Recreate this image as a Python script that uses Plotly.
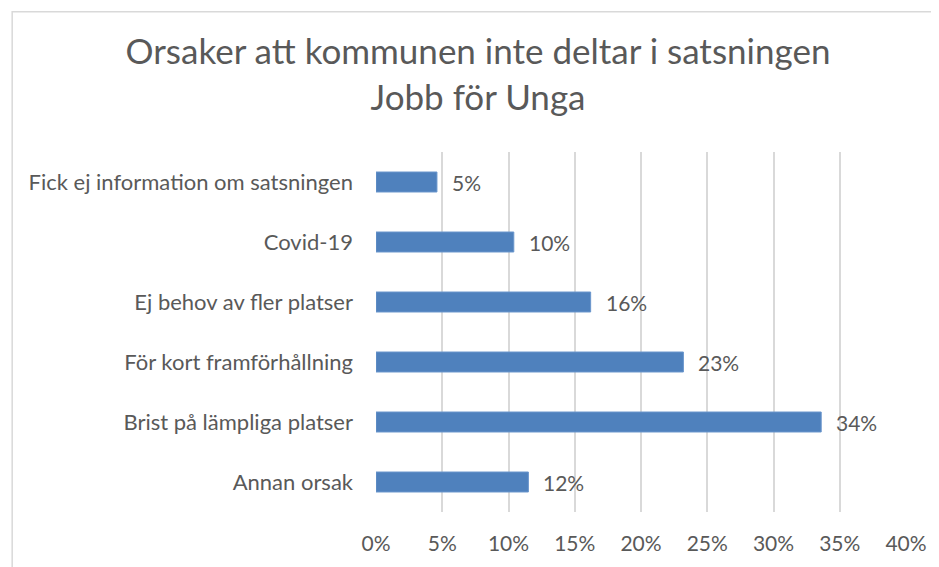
import plotly.graph_objects as go

categories = ["Fick ej information om satsningen", "Covid-19", "Ej behov av fler platser",
              "För kort framförhållning", "Brist på lämpliga platser", "Annan orsak"]
values = [0.046, 0.104, 0.162, 0.232, 0.336, 0.115]
tick_vals = [0, 0.05, 0.10, 0.15, 0.20, 0.25, 0.30, 0.35, 0.40]

# page body has an 8px margin, so the figure is sized to fill the rest of the window
W, H = 931, 559
L, R, T, B = 368, 28, 144, 47
FONT = "Lato"
GREY = "#595959"

fig = go.Figure()
fig.add_trace(go.Bar(
    y=categories, x=values, orientation="h",
    marker=dict(color="#4f81bd", line=dict(color="#6a96cc", width=1)),
    hoverinfo="skip",
))
for c, v in zip(categories, values):
    fig.add_annotation(x=v, y=c, text=f"{v:.0%}", showarrow=False, xanchor="left",
                       xshift=13, yshift=0, font=dict(family=FONT, size=21, color=GREY))

pw = W - L - R
ph = H - T - B
fig.add_shape(type="rect", xref="paper", yref="paper",
              x0=(0.75 - L) / pw, x1=(W + 10 - L) / pw,
              y0=-(B + 10) / ph, y1=(H - B - 0.75) / ph,
              line=dict(color="#d9d9d9", width=1.5), fillcolor="rgba(0,0,0,0)", layer="below")

fig.update_layout(
    width=W, height=H,
    margin=dict(l=L, r=R, t=T, b=B),
    paper_bgcolor="white", plot_bgcolor="white",
    showlegend=False,
    bargap=0.667,
    title=dict(text="Orsaker att kommunen inte deltar i satsningen<br>Jobb för Unga",
               x=470 / W, xanchor="center", y=1 - 56 / H, yanchor="middle",
               font=dict(family=FONT, size=35, color=GREY)),
    xaxis=dict(range=[0, 0.40], tickvals=tick_vals, tickformat=".0%",
               showgrid=True, gridcolor="#d9d9d9", gridwidth=1.5,
               zeroline=False, showline=False, ticks="", ticklabelstandoff=17,
               tickfont=dict(family=FONT, size=21, color=GREY)),
    yaxis=dict(categoryorder="array", categoryarray=categories[::-1],
               showgrid=False, zeroline=False, showline=False, ticks="",
               ticklabelstandoff=22,
               tickfont=dict(family=FONT, size=22, color=GREY)),
)
fig.write_html("out.html")
